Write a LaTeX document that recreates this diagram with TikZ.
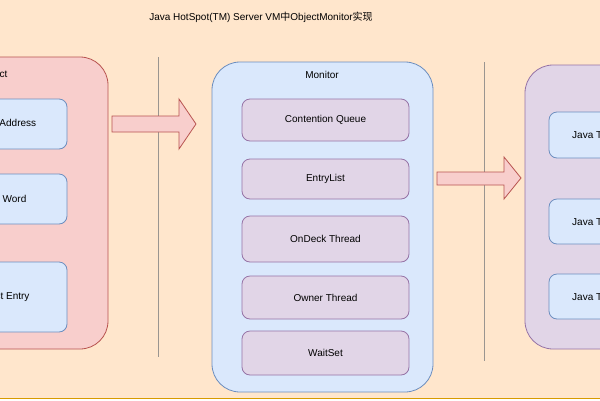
\documentclass[tikz,border=0pt]{standalone}
\usepackage{fontspec}
\setmainfont{Liberation Sans}
\newfontfamily\cjk{Noto Sans CJK SC}
\usetikzlibrary{positioning}
\definecolor{bgfill}{HTML}{FFE6CC}
\definecolor{bgline}{HTML}{D79B00}
\definecolor{redfill}{HTML}{F8CECC}
\definecolor{redline}{HTML}{B85450}
\definecolor{bluefill}{HTML}{DAE8FC}
\definecolor{blueline}{HTML}{6C8EBF}
\definecolor{purplefill}{HTML}{E1D5E7}
\definecolor{purpleline}{HTML}{9673A6}
\definecolor{sepgray}{HTML}{9A9590}
\begin{document}
\begin{tikzpicture}[x=1pt, y=-1pt, font=\fontsize{10}{12}\selectfont,
    panel/.style={rounded corners=28pt, line width=0.8pt, inner sep=0pt},
    redpanel/.style={panel, draw=redline, fill=redfill},
    bluepanel/.style={panel, draw=blueline, fill=bluefill},
    purplepanel/.style={panel, draw=purpleline, fill=purplefill},
    item/.style={rounded corners=8pt, line width=0.8pt, inner sep=0pt},
    blueitem/.style={item, draw=blueline, fill=bluefill},
    purpleitem/.style={item, draw=purpleline, fill=purplefill},
    sepline/.style={sepgray, line width=0.8pt},
    blockarrow/.style={draw=redline, fill=redfill, line width=0.8pt}]
    \useasboundingbox (0,0) rectangle (600,400);
    \fill[bgfill] (-10,-10) rectangle (610,398);
    \draw[bgline, line width=1pt] (-10,398) -- (610,398);

    \node (title) at (261,17) {Java HotSpot(TM) Server VM{\cjk 中}ObjectMonitor{\cjk 实现}};

    \node[redpanel, minimum width=212pt, minimum height=292pt] (object) at (2,203) {};
    \node[anchor=east] (objectlabel) at (11,75) {Object};
    \node[blueitem, minimum width=130pt, minimum height=50pt] (address) at (2,124) {Object Address};
    \node[blueitem, minimum width=130pt, minimum height=50pt] (markword) at (2,199) {Mark Word};
    \node[blueitem, minimum width=130pt, minimum height=70pt] (entry) at (2,297) {Object Entry};

    \node[bluepanel, minimum width=221pt, minimum height=330pt] (monitor) at (322.5,227) {};
    \node (monitorlabel) at (322,75) {Monitor};
    \node[purpleitem, minimum width=167pt, minimum height=42pt] (cq) at (325.5,120) {Contention Queue};
    \node[purpleitem, minimum width=167pt, minimum height=40pt] (entrylist) at (325.5,179) {EntryList};
    \node[purpleitem, minimum width=167pt, minimum height=46pt] (ondeck) at (325.5,239) {OnDeck Thread};
    \node[purpleitem, minimum width=167pt, minimum height=43pt] (owner) at (325.5,297.5) {Owner Thread};
    \node[purpleitem, minimum width=167pt, minimum height=44pt] (waitset) at (325.5,353) {WaitSet};

    \node[purplepanel, minimum width=200pt, minimum height=284pt] (threads) at (625,207) {};
    \node[anchor=west] (threadslabel) at (597,83) {Thread};
    \node[blueitem, minimum width=102pt, minimum height=46pt] (threada) at (600,135) {Java Thread};
    \node[blueitem, minimum width=102pt, minimum height=45pt] (threadb) at (600,221.5) {Java Thread};
    \node[blueitem, minimum width=102pt, minimum height=45pt] (threadc) at (600,296.5) {Java Thread};

    \draw[sepline] (158,57) -- (158,357);
    \draw[sepline] (484,62) -- (484,361);

    \draw[blockarrow] (112,116) -- (179,116) -- (179,99) -- (196,124) -- (179,149) -- (179,132) -- (112,132) -- cycle;
    \draw[blockarrow] (437,172) -- (504,172) -- (504,157) -- (521,178) -- (504,199) -- (504,185) -- (437,185) -- cycle;
\end{tikzpicture}
\end{document}
